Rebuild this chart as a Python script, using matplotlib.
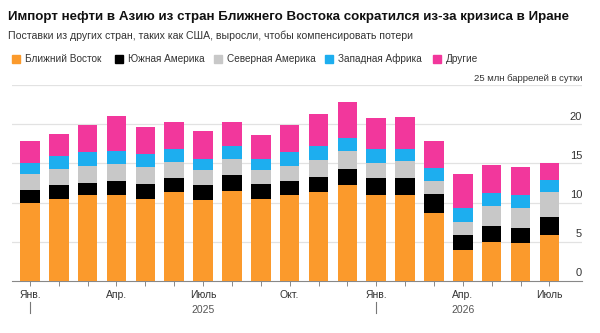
import matplotlib.pyplot as plt
import numpy as np
from matplotlib.patches import Rectangle
import matplotlib.transforms as mtransforms

plt.rcParams['font.family'] = ['Liberation Sans', 'DejaVu Sans']

months = ['Янв.', '', '', 'Апр.', '', '', 'Июль', '', '', 'Окт.', '', '',
          'Янв.', '', '', 'Апр.', '', '', 'Июль']
years = ['2025', '2026']

# segment values, million barrels per day
middle_east = [10.0, 10.5, 11.0, 10.95, 10.5, 11.4, 10.3, 11.5, 10.5, 11.0,
               11.3, 12.3, 11.0, 11.0, 8.7, 3.9, 5.0, 4.8, 5.9]
south_america = [1.6, 1.8, 1.5, 1.75, 1.9, 1.7, 1.9, 2.0, 1.9, 1.8,
                 2.0, 2.0, 2.1, 2.1, 2.4, 2.0, 2.0, 1.9, 2.2]
north_america = [2.0, 2.0, 2.2, 2.2, 2.1, 2.1, 1.9, 2.1, 1.7, 1.9,
                 2.2, 2.3, 2.0, 2.2, 1.7, 1.6, 2.5, 2.6, 3.2]
west_africa = [1.5, 1.6, 1.7, 1.7, 1.7, 1.6, 1.5, 1.6, 1.5, 1.7,
               1.7, 1.6, 1.7, 1.6, 1.6, 1.8, 1.7, 1.7, 1.6]
other = [2.8, 2.9, 3.5, 4.5, 3.4, 3.5, 3.6, 3.1, 3.0, 3.5,
         4.1, 4.7, 4.0, 4.1, 3.5, 4.4, 3.6, 3.5, 2.1]

series = [middle_east, south_america, north_america, west_africa, other]
labels = ['Ближний Восток', 'Южная Америка', 'Северная Америка', 'Западная Африка', 'Другие']
colors = ['#FB9A2C', '#000000', '#C8C8C8', '#1DAEEF', '#F2379C']

fig = plt.figure(figsize=(6, 3.33), dpi=100)
ax = fig.add_axes([0.02, 0.157, 0.95, 0.587])

x = np.arange(len(months))
bottom = np.zeros(len(months))
for vals, c in zip(series, colors):
    ax.bar(x, vals, 0.68, bottom=bottom, color=c, zorder=3)
    bottom += np.array(vals)

ax.set_xlim(-0.62, 19.13)
ax.set_ylim(0, 25)
for s in ['top', 'right', 'left']:
    ax.spines[s].set_visible(False)
ax.spines['bottom'].set_color('#888888')
ax.spines['bottom'].set_linewidth(0.8)
ax.set_yticks([])
for v in [5, 10, 15, 20, 25]:
    ax.axhline(v, color='#E2E2E2', lw=0.9, zorder=1)

trans = mtransforms.blended_transform_factory(ax.transAxes, ax.transData)
for v in [0, 5, 10, 15, 20]:
    ax.text(1.0, v + 0.3, str(v), transform=trans, ha='right', va='bottom',
            fontsize=8, color='#333333')
ax.text(1.0, 25.3, '25 млн баррелей в сутки', transform=trans, ha='right',
        va='bottom', fontsize=6.8, color='#333333')

ax.set_xticks(x)
ax.set_xticklabels(months, fontsize=7.5, color='#333333')
ax.tick_params(axis='x', length=3.5, width=0.7, color='#888888', pad=3)

tx = mtransforms.blended_transform_factory(ax.transData, fig.transFigure)
ax.text(6, 1 - 310 / 333, years[0], transform=tx, ha='center', va='center',
        fontsize=7.5, color='#555555')
ax.text(15, 1 - 310 / 333, years[1], transform=tx, ha='center', va='center',
        fontsize=7.5, color='#555555')
for xp in [0, 12]:
    ax.plot([xp, xp], [1 - 302 / 333, 1 - 313 / 333], transform=tx, color='#777777',
            lw=0.8, clip_on=False)

title = fig.text(0.013, 1 - 17 / 333,
                 'Импорт нефти в Азию из стран Ближнего Востока сократился из-за кризиса в Иране',
                 fontsize=12, fontweight='bold', va='center', ha='left', color='#111111')
sub = fig.text(0.013, 1 - 36 / 333,
               'Поставки из других стран, таких как США, выросли, чтобы компенсировать потери',
               fontsize=9, va='center', ha='left', color='#333333')

# shrink title/subtitle to the widths seen in the reference
r = fig.canvas.get_renderer()
for t, w in [(title, 563), (sub, 405)]:
    cur = t.get_window_extent(r).width
    t.set_fontsize(t.get_fontsize() * w / cur)

lx = [12, 115, 214, 325, 433]
for xp, lab, c in zip(lx, labels, colors):
    fig.patches.append(Rectangle((xp / 600, 1 - 63 / 333), 8 / 600, 8 / 333,
                                 transform=fig.transFigure, color=c))
    fig.text((xp + 13) / 600, 1 - 59 / 333, lab, fontsize=7.2, va='center',
             ha='left', color='#333333')

fig.savefig('out.png', dpi=100)
